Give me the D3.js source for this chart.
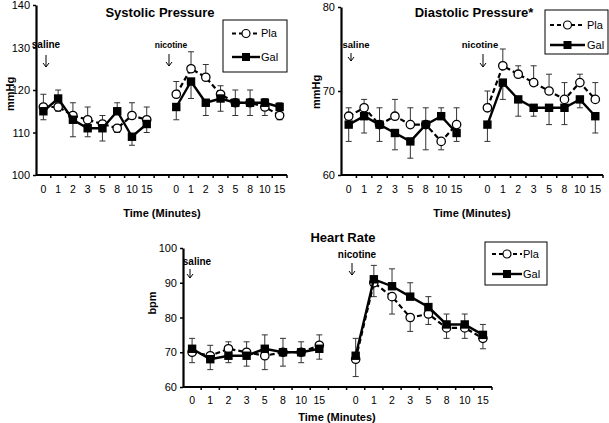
<!DOCTYPE html>
<html><head><meta charset="utf-8">
<script src="https://cdn.jsdelivr.net/npm/d3@7"></script>
<style>
body{margin:0;background:#fff}
svg{display:block}
text{font-family:"Liberation Sans",Arial,Helvetica,sans-serif;fill:#000}
</style>
</head><body>
<svg id="chart" width="609" height="423"></svg>
<script>
// ---------------- data ----------------
const minuteLabels = ["0","1","2","3","5","8","10","15"];
const seriesNames = ["Pla","Gal"];

// Systolic pressure (mmHg)
const sysPlaSaline   = [116,116,114,113,112,111,114,113];
const sysGalSaline   = [115,118,113,111,111,115,109,112];
const sysPlaNicotine = [119,125,123,119,117,117,116,114];
const sysGalNicotine = [116,122,117,118,117,117,117,116];
const sysPlaSalineErr   = [3,1,3,3,2,1,3,3];
const sysGalSalineErr   = [2,2,4,2,3,2,2,2];
const sysPlaNicotineErr = [3,4,3,2,3,3,2,1];
const sysGalNicotineErr = [3,4,3,3,3,3,1,1];
const sysTicks = [100,110,120,130,140];

// Diastolic pressure (mmHg)
const diaPlaSaline   = [67,68,66,67,66,66,64,66];
const diaGalSaline   = [66,67,66,65,64,66,67,65];
const diaPlaNicotine = [68,73,72,71,70,69,71,69];
const diaGalNicotine = [66,71,69,68,68,68,69,67];
const diaPlaSalineErr   = [1,1,2,2,2,2,1,2];
const diaGalSalineErr   = [2,2,2,2,2,3,1,1];
const diaPlaNicotineErr = [2,2,1,2,2,2,1,2];
const diaGalNicotineErr = [2,2,2,1,2,2,1,2];
const diaTicks = [60,70,80];

// Heart rate (bpm)
const hrPlaSaline   = [70,69,71,70,69,70,70,72];
const hrGalSaline   = [71,68,69,69,71,70,70,71];
const hrPlaNicotine = [68,90,86,80,81,77,77,74];
const hrGalNicotine = [69,91,89,86,83,78,78,75];
const hrPlaSalineErr   = [3,3,2,3,4,4,3,3];
const hrGalSalineErr   = [3,3,2,3,4,4,3,3];
const hrPlaNicotineErr = [5,4,5,4,3,3,3,3];
const hrGalNicotineErr = [5,4,5,4,3,3,3,3];
const hrTicks = [60,70,80,90,100];

// ---------------- layout ----------------
const panels = [
  {
    title:"Systolic Pressure", titleX:160, titleY:17,
    yLabel:"mmHg", yLabelX:10, yLabelY:94,
    domain:[100,140], ticks:sysTicks,
    x0:36, x1:287, yTop:5, yBottom:175,
    tickLabelY:193, xTitleY:217, xTitleX:162,
    pla:[sysPlaSaline, sysPlaNicotine], gal:[sysGalSaline, sysGalNicotine],
    plaErr:[sysPlaSalineErr, sysPlaNicotineErr], galErr:[sysGalSalineErr, sysGalNicotineErr],
    legend:{x:223, y:20, w:64, h:52, r1:33.5, r2:57, lx0:232, lx1:260, tx:261},
    saline:{tx:46, ty:48, ax:46, ay1:55, ay2:67, fs:10},
    nicotine:{tx:171, ty:47.5, ax:169, ay1:54, ay2:66, fs:8.5}
  },
  {
    title:"Diastolic Pressure*", titleX:474, titleY:17,
    yLabel:"mmHg", yLabelX:316, yLabelY:92,
    domain:[60,80], ticks:diaTicks,
    x0:341, x1:603, yTop:7, yBottom:175,
    tickLabelY:193, xTitleY:217, xTitleX:472,
    pla:[diaPlaSaline, diaPlaNicotine], gal:[diaGalSaline, diaGalNicotine],
    plaErr:[diaPlaSalineErr, diaPlaNicotineErr], galErr:[diaGalSalineErr, diaGalNicotineErr],
    legend:{x:545, y:10, w:63, h:44, r1:25, r2:45, lx0:550, lx1:585, tx:587},
    saline:{tx:356, ty:48, ax:351, ay1:53, ay2:61, fs:9.5},
    nicotine:{tx:480, ty:47.5, ax:483, ay1:54, ay2:67, fs:9.5}
  },
  {
    title:"Heart Rate", titleX:343, titleY:242,
    yLabel:"bpm", yLabelX:152, yLabelY:303,
    domain:[60,100], ticks:hrTicks,
    x0:183, x1:492, yTop:248, yBottom:387,
    tickLabelY:404, xTitleY:421, xTitleX:337,
    pla:[hrPlaSaline, hrPlaNicotine], gal:[hrGalSaline, hrGalNicotine],
    plaErr:[hrPlaSalineErr, hrPlaNicotineErr], galErr:[hrGalSalineErr, hrGalNicotineErr],
    legend:{x:485, y:242, w:62, h:43, r1:254, r2:274, lx0:492, lx1:522, tx:523},
    saline:{tx:197, ty:265, ax:190, ay1:269, ay2:278, fs:10},
    nicotine:{tx:357, ty:258, ax:352, ay1:263, ay2:275, fs:10}
  }
];

const svg = d3.select("#chart");
const slotKeys = [...minuteLabels.map(m=>"s"+m), "gap", ...minuteLabels.map(m=>"n"+m)];

function arrow(g, x, y1, y2){
  g.append("line").attr("x1",x).attr("x2",x).attr("y1",y1).attr("y2",y2)
    .attr("stroke","#000").attr("stroke-width",1);
  g.append("path").attr("d",`M${x-3},${y2-4}L${x},${y2}L${x+3},${y2-4}`)
    .attr("fill","none").attr("stroke","#000").attr("stroke-width",1);
}

panels.forEach(p => {
  const g = svg.append("g");
  const x = d3.scaleBand().domain(slotKeys).range([p.x0, p.x1]);
  const y = d3.scaleLinear().domain(p.domain).range([p.yBottom, p.yTop]);
  const cx = k => x(k) + x.bandwidth()/2;

  // y axis
  const ya = g.append("g").attr("transform",`translate(${p.x0},0)`)
    .call(d3.axisLeft(y).tickValues(p.ticks).tickSize(3).tickSizeOuter(0).tickPadding(3));
  ya.select(".domain").attr("stroke","#000").attr("stroke-width",2.2);
  ya.selectAll(".tick line").attr("stroke","#000").attr("stroke-width",1.5);
  ya.selectAll(".tick text").attr("font-size",11).attr("font-family","Liberation Sans, Arial, sans-serif");

  // x axis
  const xa = g.append("g").attr("transform",`translate(0,${p.yBottom})`)
    .call(d3.axisBottom(x).tickSize(0).tickSizeOuter(0).tickFormat(()=>""));
  xa.select(".domain").attr("stroke","#000").attr("stroke-width",2.2)
    .attr("d",`M${p.x0},0H${p.x1}`);
  d3.range(1, slotKeys.length + 1).forEach(i => {
    const xx = p.x0 + i * x.step();
    g.append("line").attr("x1",xx).attr("x2",xx).attr("y1",p.yBottom).attr("y2",p.yBottom+3)
      .attr("stroke","#000").attr("stroke-width",1.5);
  });
  slotKeys.forEach(k => {
    if (k === "gap") return;
    g.append("text").attr("x",cx(k)).attr("y",p.tickLabelY).attr("text-anchor","middle")
      .attr("font-size",10.5).text(k.slice(1));
  });

  // titles
  g.append("text").attr("x",p.titleX).attr("y",p.titleY).attr("text-anchor","middle")
    .attr("font-size",13).attr("font-weight","bold").text(p.title);
  g.append("text").attr("x",p.xTitleX).attr("y",p.xTitleY).attr("text-anchor","middle")
    .attr("font-size",11).attr("font-weight","bold").text("Time (Minutes)");
  g.append("text").attr("transform",`translate(${p.yLabelX},${p.yLabelY}) rotate(-90)`)
    .attr("text-anchor","middle").attr("dy","0.35em")
    .attr("font-size",11).attr("font-weight","bold").text(p.yLabel);

  // annotations
  g.append("text").attr("x",p.saline.tx).attr("y",p.saline.ty).attr("text-anchor","middle")
    .attr("font-size",p.saline.fs).attr("font-weight","bold").text("saline");
  arrow(g, p.saline.ax, p.saline.ay1, p.saline.ay2);
  g.append("text").attr("x",p.nicotine.tx).attr("y",p.nicotine.ty).attr("text-anchor","middle")
    .attr("font-size",p.nicotine.fs).attr("font-weight","bold").text("nicotine");
  arrow(g, p.nicotine.ax, p.nicotine.ay1, p.nicotine.ay2);

  // build point tables
  const prefixes = ["s","n"];
  const groups = [0,1].map(gi => minuteLabels.map((m,i) => ({
    key: prefixes[gi]+m,
    pla: p.pla[gi][i], gal: p.gal[gi][i],
    plaErr: p.plaErr[gi][i], galErr: p.galErr[gi][i]
  })));

  // error bars
  const eb = g.append("g").attr("stroke","#333").attr("stroke-width",1);
  groups.flat().forEach(d => {
    const xx = cx(d.key);
    const bars = [
      {v:d.pla, e:d.plaErr, up: d.pla >= d.gal},
      {v:d.gal, e:d.galErr, up: d.gal > d.pla}
    ];
    bars.forEach(b => {
      const end = b.up ? b.v + b.e : b.v - b.e;
      eb.append("line").attr("x1",xx).attr("x2",xx).attr("y1",y(b.v)).attr("y2",y(end));
      eb.append("line").attr("x1",xx-3).attr("x2",xx+3).attr("y1",y(end)).attr("y2",y(end));
    });
  });

  // series
  const line = acc => d3.line().x(d=>cx(d.key)).y(d=>y(d[acc]));
  groups.forEach(grp => {
    g.append("path").datum(grp).attr("d",line("pla")).attr("fill","none")
      .attr("stroke","#000").attr("stroke-width",2.2).attr("stroke-dasharray","5,3");
  });
  groups.flat().forEach(d => {
    g.append("circle").attr("cx",cx(d.key)).attr("cy",y(d.pla)).attr("r",4.2)
      .attr("fill","#fff").attr("stroke","#000").attr("stroke-width",1.3);
  });
  groups.forEach(grp => {
    g.append("path").datum(grp).attr("d",line("gal")).attr("fill","none")
      .attr("stroke","#000").attr("stroke-width",2.4);
  });
  groups.flat().forEach(d => {
    g.append("rect").attr("x",cx(d.key)-4.2).attr("y",y(d.gal)-4.2)
      .attr("width",8.4).attr("height",8.4).attr("fill","#000");
  });

  // legend
  const L = p.legend;
  g.append("rect").attr("x",L.x).attr("y",L.y).attr("width",L.w).attr("height",L.h)
    .attr("fill","#fff").attr("stroke","#000").attr("stroke-width",1);
  const mid = (L.lx0 + L.lx1)/2;
  g.append("line").attr("x1",L.lx0).attr("x2",L.lx1).attr("y1",L.r1).attr("y2",L.r1)
    .attr("stroke","#000").attr("stroke-width",2).attr("stroke-dasharray","4,3");
  g.append("circle").attr("cx",mid).attr("cy",L.r1).attr("r",4).attr("fill","#fff")
    .attr("stroke","#000").attr("stroke-width",1.2);
  g.append("text").attr("x",L.tx).attr("y",L.r1).attr("dy","0.35em").attr("font-size",11).text(seriesNames[0]);
  g.append("line").attr("x1",L.lx0).attr("x2",L.lx1).attr("y1",L.r2).attr("y2",L.r2)
    .attr("stroke","#000").attr("stroke-width",2.4);
  g.append("rect").attr("x",mid-4).attr("y",L.r2-4).attr("width",8).attr("height",8).attr("fill","#000");
  g.append("text").attr("x",L.tx).attr("y",L.r2).attr("dy","0.35em").attr("font-size",11).text(seriesNames[1]);
});
</script>
</body></html>
